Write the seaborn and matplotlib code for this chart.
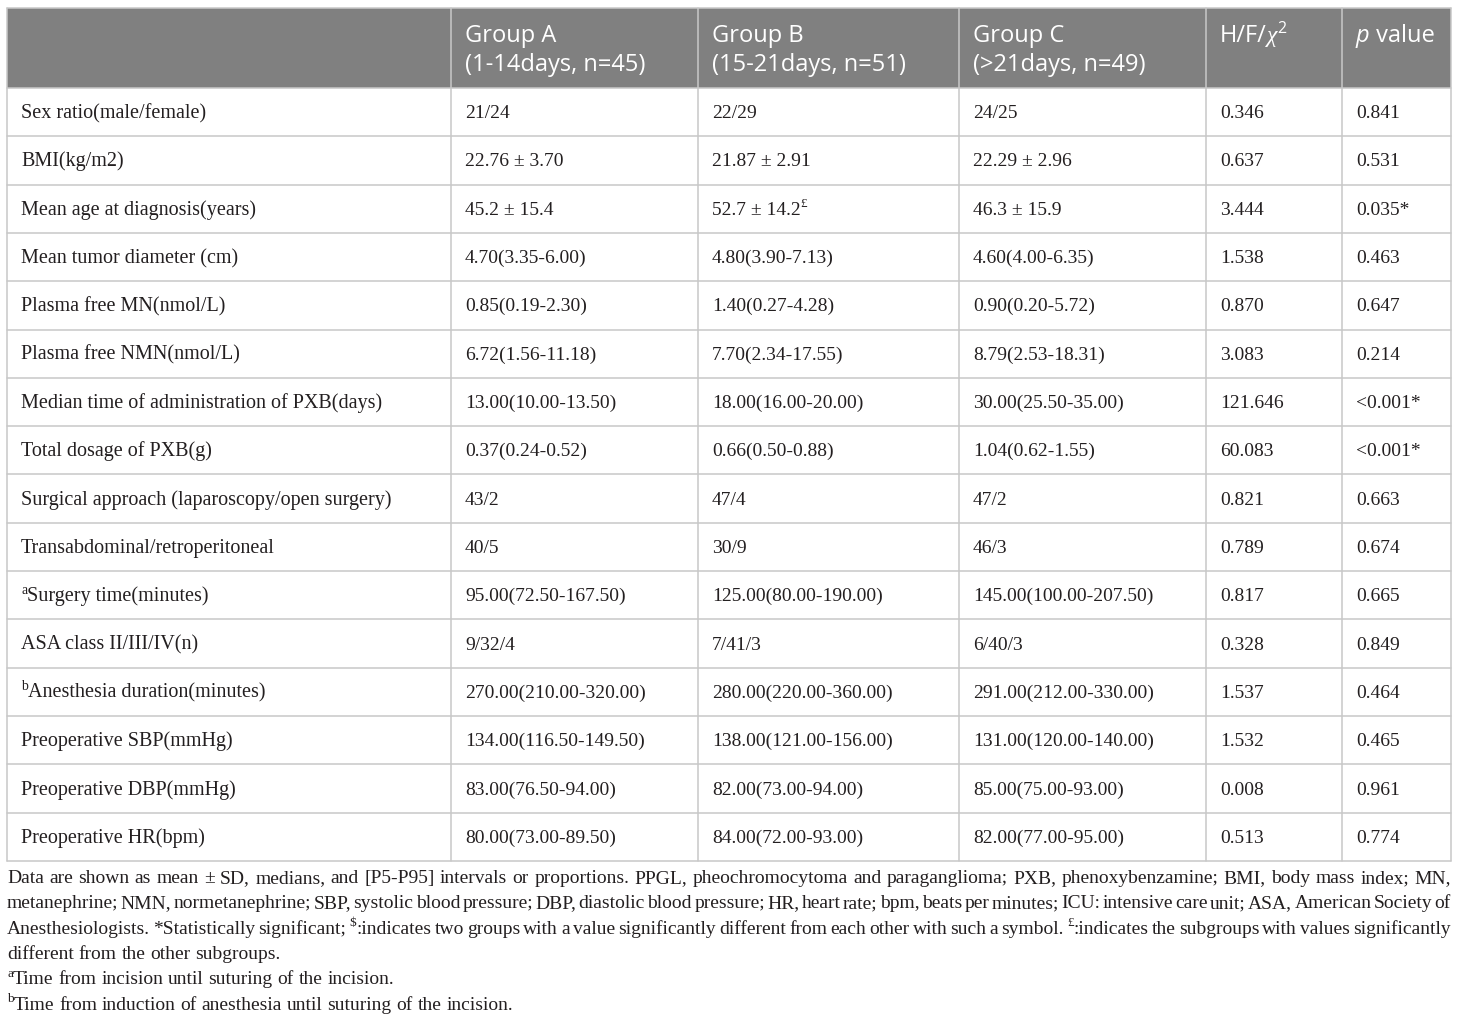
"""
Baseline characteristics table (Group A / B / C) drawn with seaborn + matplotlib
"""

import re
import matplotlib
matplotlib.use('Agg')
import matplotlib.pyplot as plt
import seaborn as sns

# ====================
# Table content
# ====================
header_labels = ['', 'Group A\n(1-14days, n=45)', 'Group B\n(15-21days, n=51)',
                 'Group C\n(>21days, n=49)', 'H/F/{/χ}{^2}', '{/p} value']

row_labels = ['Sex ratio(male/female)', 'BMI(kg/m2)', 'Mean age at diagnosis(years)',
              'Mean tumor diameter (cm)', 'Plasma free MN(nmol/L)', 'Plasma free NMN(nmol/L)',
              'Median time of administration of PXB(days)', 'Total dosage of PXB(g)',
              'Surgical approach (laparoscopy/open surgery)', 'Transabdominal/retroperitoneal',
              '{^a}Surgery time(minutes)', 'ASA class II/III/IV(n)',
              '{^b}Anesthesia duration(minutes)', 'Preoperative SBP(mmHg)',
              'Preoperative DBP(mmHg)', 'Preoperative HR(bpm)']

group_a = ['21/24', '22.76 ± 3.70', '45.2 ± 15.4', '4.70(3.35-6.00)', '0.85(0.19-2.30)',
           '6.72(1.56-11.18)', '13.00(10.00-13.50)', '0.37(0.24-0.52)', '43/2', '40/5',
           '95.00(72.50-167.50)', '9/32/4', '270.00(210.00-320.00)', '134.00(116.50-149.50)',
           '83.00(76.50-94.00)', '80.00(73.00-89.50)']

group_b = ['22/29', '21.87 ± 2.91', '52.7 ± 14.2{^£}', '4.80(3.90-7.13)', '1.40(0.27-4.28)',
           '7.70(2.34-17.55)', '18.00(16.00-20.00)', '0.66(0.50-0.88)', '47/4', '30/9',
           '125.00(80.00-190.00)', '7/41/3', '280.00(220.00-360.00)', '138.00(121.00-156.00)',
           '82.00(73.00-94.00)', '84.00(72.00-93.00)']

group_c = ['24/25', '22.29 ± 2.96', '46.3 ± 15.9', '4.60(4.00-6.35)', '0.90(0.20-5.72)',
           '8.79(2.53-18.31)', '30.00(25.50-35.00)', '1.04(0.62-1.55)', '47/2', '46/3',
           '145.00(100.00-207.50)', '6/40/3', '291.00(212.00-330.00)', '131.00(120.00-140.00)',
           '85.00(75.00-93.00)', '82.00(77.00-95.00)']

stat_values = ['0.346', '0.637', '3.444', '1.538', '0.870', '3.083', '121.646', '60.083',
               '0.821', '0.789', '0.817', '0.328', '1.537', '1.532', '0.008', '0.513']

p_values = ['0.841', '0.531', '0.035*', '0.463', '0.647', '0.214', '<0.001*', '<0.001*',
            '0.663', '0.674', '0.665', '0.849', '0.464', '0.465', '0.961', '0.774']

footnote_lines = [
    'Data are shown as mean ± SD, medians, and [P5-P95] intervals or proportions. PPGL, '
    'pheochromocytoma and paraganglioma; PXB, phenoxybenzamine; BMI, body mass index; MN,',
    'metanephrine; NMN, normetanephrine; SBP, systolic blood pressure; DBP, diastolic blood '
    'pressure; HR, heart rate; bpm, beats per minutes; ICU: intensive care unit; ASA, American Society of',
    'Anesthesiologists. *Statistically significant; {^$}:indicates two groups with a value '
    'significantly different from each other with such a symbol. {^£}:indicates the subgroups '
    'with values significantly',
    'different from the other subgroups.',
    '{^a}Time from incision until suturing of the incision.',
    '{^b}Time from induction of anesthesia until suturing of the incision.',
]
footnote_justified = [True, True, True, False, False, False]

# ====================
# Layout / style
# ====================
W, H = 1460, 1022
col_edges = [7, 451, 698, 959, 1206, 1342, 1451]
table_top, header_bottom, table_bottom = 8, 88, 861
pad_x = 14
line_color = '#c8c8c8'
header_color = '#808080'
SERIF = ['Liberation Serif', 'DejaVu Serif']
SANS = ['Open Sans', 'DejaVu Sans']
label_size = 14.5
body_size = 14
note_size = 14
head_size = 17

sns.set_theme(style='white')
plt.rcParams['font.family'] = SERIF

fig = plt.figure(figsize=(W / 100, H / 100), dpi=100)
ax = fig.add_axes([0, 0, 1, 1])
ax.set_xlim(0, W)
ax.set_ylim(H, 0)
ax.axis('off')
renderer = fig.canvas.get_renderer()


def parse(markup):
    """split '{^x}' (superscript) and '{/x}' (italic) markup into runs"""
    runs = []
    pos = 0
    for m in re.finditer(r'\{([\^/])(.*?)\}', markup):
        if m.start() > pos:
            runs.append((markup[pos:m.start()], 'n'))
        runs.append((m.group(2), 's' if m.group(1) == '^' else 'i'))
        pos = m.end()
    if pos < len(markup):
        runs.append((markup[pos:], 'n'))
    return runs


def draw_runs(x, y, markup, size, family, color='#231f20', italic_family=None):
    """draw runs left to right on a baseline; returns (artists, width)"""
    artists = []
    cx = x
    px = size * 100 / 72
    for text, kind in parse(markup):
        kw = dict(fontsize=size, family=family, color=color, va='baseline',
                  ha='left', parse_math=False)
        yy = y
        if kind == 's':
            kw['fontsize'] = size * 0.68
            yy = y - px * 0.38
        elif kind == 'i':
            kw['style'] = 'italic'
            if italic_family is not None:
                kw['family'] = italic_family
        t = ax.text(cx, yy, text, **kw)
        w = t.get_window_extent(renderer=renderer).width
        artists.append(t)
        cx += w
    return artists, cx - x


# ====================
# Cells, header and grid
# ====================
n_rows = len(row_labels)
row_h = (table_bottom - header_bottom) / n_rows

ax.add_patch(plt.Rectangle((col_edges[0], table_top), col_edges[-1] - col_edges[0],
                           header_bottom - table_top, facecolor=header_color,
                           edgecolor='none', zorder=0))

for j, label in enumerate(header_labels):
    for k, line in enumerate(label.split('\n')):
        draw_runs(col_edges[j] + pad_x, 42 + 29 * k, line, head_size, SANS,
                  color='white', italic_family=SERIF if 'χ' in line else None)

columns = [row_labels, group_a, group_b, group_c, stat_values, p_values]
for j, col in enumerate(columns):
    size = label_size if j == 0 else body_size
    for i, cell in enumerate(col):
        base = header_bottom + row_h * (i + 0.5) + 6
        draw_runs(col_edges[j] + pad_x, base, cell, size, SERIF)

for i in range(n_rows + 1):
    y = header_bottom + row_h * i
    ax.plot([col_edges[0], col_edges[-1]], [y, y], color=line_color, lw=1.1, zorder=1)
ax.plot([col_edges[0], col_edges[-1]], [table_top, table_top], color=line_color, lw=1.1)
for x in col_edges:
    ax.plot([x, x], [table_top, table_bottom], color=line_color, lw=1.1, zorder=1)

# ====================
# Footnotes (justified like the journal layout)
# ====================
for k, line in enumerate(footnote_lines):
    y = 883 + 25.3 * k
    words = line.split(' ')
    placed = [draw_runs(0, y, w, note_size, SERIF) for w in words]
    total = sum(wd for _, wd in placed)
    if footnote_justified[k]:
        gap = (col_edges[-1] - col_edges[0] - total) / (len(words) - 1)
    else:
        gap = note_size * 100 / 72 * 0.25
    cx = col_edges[0]
    for arts, wd in placed:
        for t in arts:
            x0, y0 = t.get_position()
            t.set_position((x0 + cx, y0))
        cx += wd + gap

plt.savefig('out.png', dpi=100)
plt.close()
